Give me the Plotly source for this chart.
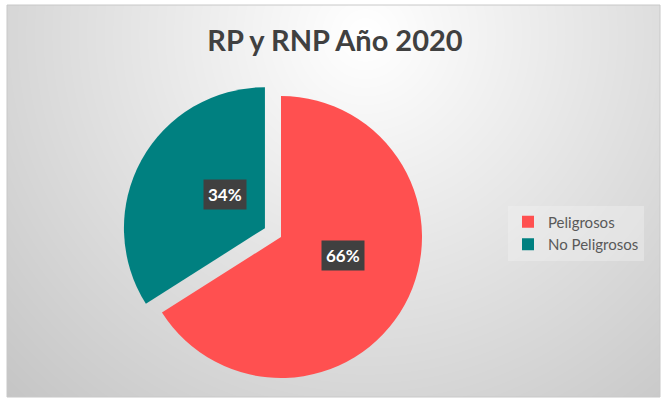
import struct, zlib, base64, math
import numpy as np
import plotly.graph_objects as go

# ---- data ----
categories = ["Peligrosos", "No Peligrosos"]
values = [66, 34]
pulls = [0, 0.13]
colors = ["#FF5050", "#008080"]
title_text = "RP y RNP Año 2020"

W, H = 662, 401

# ---- gradient background image (radial, white at top centre) ----
bx0, by0, bx1, by1 = 7, 5, 660, 397
bw, bh = bx1 - bx0, by1 - by0
yy, xx = np.mgrid[0:bh, 0:bw]
gcx, gcy = 365 - bx0, 35 - by0
d = np.sqrt((xx - gcx) ** 2 + (yy - gcy) ** 2)
g = np.clip(256 - 0.115 * d, 196, 255).astype(np.uint8)


def png_bytes(arr):
    h, w = arr.shape
    raw = b"".join(b"\x00" + arr[i].tobytes() for i in range(h))

    def chunk(tag, data):
        c = struct.pack(">I", len(data)) + tag + data
        return c + struct.pack(">I", zlib.crc32(tag + data) & 0xFFFFFFFF)

    return (b"\x89PNG\r\n\x1a\n" + chunk(b"IHDR", struct.pack(">IIBBBBB", w, h, 8, 0, 0, 0, 0))
            + chunk(b"IDAT", zlib.compress(raw, 9)) + chunk(b"IEND", b""))


bg_src = "data:image/png;base64," + base64.b64encode(png_bytes(g)).decode()

# ---- pie geometry ----
pcx, pcy, pr = 281, 237, 141  # centre (px from top-left) and radius
half = pr * (1 + max(pulls))
dom_x = [(pcx - half) / W, (pcx + half) / W]
dom_y = [1 - (pcy + half) / H, 1 - (pcy - half) / H]

fig = go.Figure(go.Pie(
    labels=categories, values=values, pull=pulls, sort=False,
    direction="clockwise", rotation=0,
    marker=dict(colors=colors, line=dict(width=0)),
    textinfo="none", hoverinfo="label+percent",
    domain=dict(x=dom_x, y=dom_y),
))

# label boxes placed along each slice's mid-angle
total = sum(values)
cum = 0
annotations = []
for v, p in zip(values, pulls):
    mid = (cum + v / 2) / total * 2 * math.pi
    cum += v
    dx, dy = math.sin(mid), -math.cos(mid)
    sx, sy = pcx + p * pr * dx, pcy + p * pr * dy
    lx, ly = sx + 0.5 * pr * dx, sy + 0.5 * pr * dy
    annotations.append(dict(
        x=lx / W, y=1 - ly / H, xref="paper", yref="paper",
        text=f"{round(100 * v / total)}%", showarrow=False,
        font=dict(family="Lato, 'Open Sans', sans-serif", size=17, color="white", weight="bold"),
        bgcolor="#404040", borderpad=4,
    ))

fig.update_layout(
    width=W, height=H,
    margin=dict(l=0, r=0, t=0, b=0),
    paper_bgcolor="white",
    title=dict(text=title_text, x=0.506, xanchor="center", y=1 - 41 / H, yanchor="middle",
               font=dict(family="Lato, 'Open Sans', sans-serif", size=29, color="#404040", weight="bold")),
    legend=dict(x=508 / W, y=1 - 233 / H, xanchor="left", yanchor="middle",
                bgcolor="rgba(242,242,242,0.4)",
                font=dict(family="Lato, 'Open Sans', sans-serif", size=15, color="#595959")),
    images=[dict(source=bg_src, xref="paper", yref="paper", x=bx0 / W, y=1 - by0 / H,
                 sizex=bw / W, sizey=bh / H, sizing="stretch", xanchor="left", yanchor="top",
                 layer="below")],
    shapes=[dict(type="rect", xref="paper", yref="paper", x0=bx0 / W, x1=bx1 / W,
                 y0=1 - by1 / H, y1=1 - by0 / H, line=dict(color="#C8C8C8", width=1))],
    annotations=annotations,
)

fig.write_html("out.html", config={"displayModeBar": False},
               post_script="document.body.style.margin='0';document.body.style.overflow='hidden';")
